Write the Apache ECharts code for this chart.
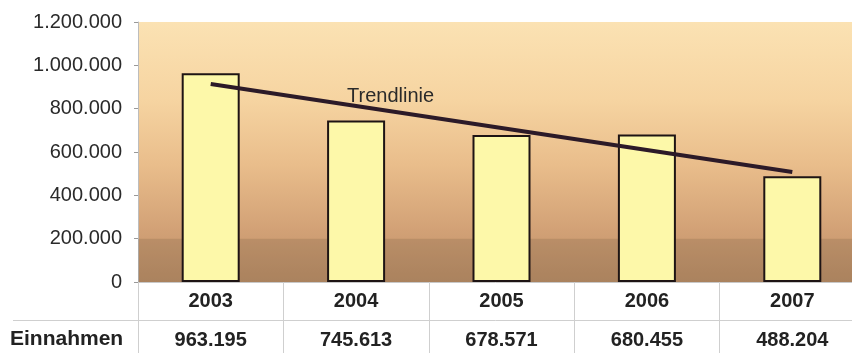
<!DOCTYPE html>
<html>
<head>
<meta charset="utf-8">
<script src="https://cdn.jsdelivr.net/npm/echarts@6/dist/echarts.min.js"></script>
<style>
  html, body { margin: 0; padding: 0; background: #ffffff; }
  #chart { width: 852px; height: 353px; }
</style>
</head>
<body>
<div id="chart"></div>
<script>
// Jahreseinnahmen 2003-2007
var years = ['2003', '2004', '2005', '2006', '2007'];
var einnahmen = [963195, 745613, 678571, 680455, 488204];
// Endpunkte der Trendlinie (erstes und letztes Jahr)
var trendYears = ['2003', '2007'];
var trendValues = [914000, 508000];
var yTicks = [0, 200000, 400000, 600000, 800000, 1000000, 1200000];

function fmt(v) {
  return String(v).replace(/\B(?=(\d{3})+(?!\d))/g, '.');
}

var FONT = 'Liberation Sans, Arial, sans-serif';
var chart = echarts.init(document.getElementById('chart'), null, { renderer: 'canvas' });

var option = {
  animation: false,
  backgroundColor: '#ffffff',
  grid: {
    left: 138, top: 22, right: -13, bottom: 71,
    containLabel: false,
    outerBoundsMode: 'none',
    show: true,
    borderWidth: 0,
    backgroundColor: new echarts.graphic.LinearGradient(0, 0, 0, 1, [
      { offset: 0, color: '#fbe2b3' },
      { offset: 0.3, color: '#f6d4a1' },
      { offset: 0.55, color: '#e9bd8b' },
      { offset: 0.8, color: '#d2a176' },
      { offset: 1, color: '#bb8f68' }
    ])
  },
  xAxis: [
    {
      type: 'category',
      data: years,
      position: 'bottom',
      boundaryGap: true,
      axisLine: { show: true, lineStyle: { color: '#c8c8c8', width: 1 } },
      axisTick: { show: true, interval: 0, length: 71, lineStyle: { color: '#cfcfcf', width: 1 } },
      axisLabel: { margin: 9, color: '#222', fontFamily: FONT, fontSize: 20, fontWeight: 'bold' },
      splitLine: { show: false }
    },
    {
      type: 'category',
      data: years,
      position: 'bottom',
      offset: 38,
      boundaryGap: true,
      axisLine: { show: true, lineStyle: { color: '#cfcfcf', width: 1 } },
      axisTick: { show: false },
      axisLabel: {
        margin: 10, color: '#222', fontFamily: FONT, fontSize: 20, fontWeight: 'bold',
        formatter: function (v, i) { return fmt(einnahmen[i]); }
      },
      splitLine: { show: false }
    }
  ],
  yAxis: {
    type: 'value',
    min: yTicks[0],
    max: yTicks[yTicks.length - 1],
    interval: yTicks[1] - yTicks[0],
    axisLine: { show: true, lineStyle: { color: '#bdbdbd', width: 1 } },
    axisTick: { show: true, length: 4, lineStyle: { color: '#999' } },
    axisLabel: { margin: 16, color: '#2a2a2a', fontFamily: FONT, fontSize: 20, formatter: fmt },
    splitLine: { show: false }
  },
  series: [
    {
      // dunkleres Band im unteren Bereich des Diagramms
      type: 'line',
      data: [],
      z: 1,
      silent: true,
      markArea: {
        silent: true,
        itemStyle: { color: 'rgba(105, 80, 55, 0.2)' },
        data: [[{ yAxis: yTicks[0] }, { yAxis: yTicks[1] }]]
      }
    },
    {
      name: 'Einnahmen',
      type: 'bar',
      data: einnahmen,
      barWidth: 58,
      z: 2,
      itemStyle: { color: '#fdf8a9', borderColor: '#1e1414', borderWidth: 2 }
    },
    {
      name: 'Trendlinie',
      type: 'line',
      z: 3,
      data: trendYears.map(function (y, i) { return [y, trendValues[i]]; }),
      symbol: 'none',
      lineStyle: { color: '#2c1a28', width: 4 }
    }
  ],
  graphic: [
    {
      type: 'text',
      left: 347, top: 86,
      style: { text: 'Trendlinie', fill: '#2a2a2a', font: '20px ' + FONT }
    },
    {
      type: 'line',
      shape: { x1: 13, y1: 320.5, x2: 138, y2: 320.5 },
      style: { stroke: '#cfcfcf', lineWidth: 1 }
    },
    {
      type: 'text',
      left: 10, top: 329,
      style: { text: 'Einnahmen', fill: '#222', font: 'bold 21px ' + FONT }
    }
  ]
};
chart.setOption(option);
</script>
</body>
</html>
